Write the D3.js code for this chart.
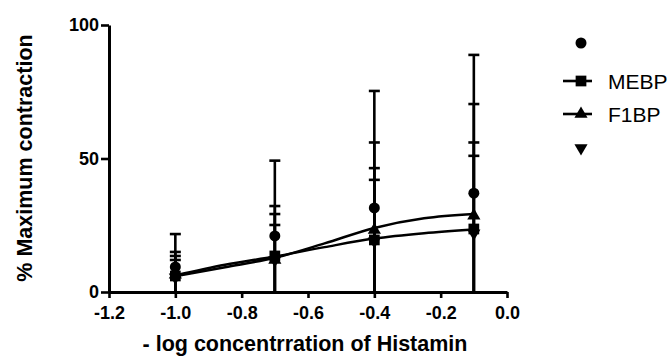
<!DOCTYPE html>
<html>
<head>
<meta charset="utf-8">
<script src="https://cdn.jsdelivr.net/npm/d3@7"></script>
<style>
  body { margin: 0; background: #fff; }
  text { font-family: "Liberation Sans", Arial, sans-serif; }
</style>
</head>
<body>
<svg id="chart" width="667" height="356"></svg>
<script>
// doses (-log concentration)
const doses = [-1.0, -0.7, -0.4, -0.1];

// means per group
const circleMean = [9.4, 21, 31.5, 37];
const mebpMean = [6, 13.5, 19.5, 23.6];
const f1bpMean = [6.5, 12, 23.2, 28.6];
const downMean = [5.5, 12, 19, 22];

// upper error (mean + SD) per group
const circleUpper = [21.7, 49.2, 75.3, 88.8];
const mebpUpper = [12, 25.1, 42, 51];
const f1bpUpper = [13.5, 29.2, 46.4, 56];
const downUpper = [15, 32.2, 56, 70.4];

// fitted curves
const fitX = [-1.0, -0.85, -0.7, -0.55, -0.4, -0.25, -0.1];
const mebpFit = [6.2, 10.2, 13.3, 16.8, 20.0, 22.0, 23.4];
const f1bpFit = [5.9, 9.3, 12.8, 18.2, 24.0, 27.6, 29.2];

const xTicks = [-1.2, -1.0, -0.8, -0.6, -0.4, -0.2, 0.0];
const yTicks = [0, 50, 100];

const legendNames = ["", "MEBP", "F1BP", ""];

const svg = d3.select("#chart");

const x = d3.scaleLinear().domain([-1.2, 0]).range([109, 507]);
const y = d3.scaleLinear().domain([0, 100]).range([292, 25]);

const symbols = {
    circle: d3.symbol().type(d3.symbolCircle).size(95),
    square: d3.symbol().type(d3.symbolSquare).size(115),
    triangle: d3.symbol().type(d3.symbolTriangle).size(75),
    down: d3.symbol().type(d3.symbolTriangle).size(75)
};

const groups = [
    { key: "circle", mean: circleMean, upper: circleUpper },
    { key: "square", mean: mebpMean, upper: mebpUpper },
    { key: "triangle", mean: f1bpMean, upper: f1bpUpper },
    { key: "down", mean: downMean, upper: downUpper }
];

// error bars (lower side runs to zero)
groups.forEach(g => {
    const eb = svg.append("g").attr("stroke", "#000").attr("stroke-width", 2.6);
    doses.forEach((d, i) => {
        const cx = x(d);
        eb.append("line")
            .attr("x1", cx).attr("x2", cx)
            .attr("y1", y(0)).attr("y2", y(g.upper[i]));
        eb.append("line")
            .attr("x1", cx - 5.5).attr("x2", cx + 5.5)
            .attr("y1", y(g.upper[i])).attr("y2", y(g.upper[i]));
    });
});

// fitted curves
const line = d3.line()
    .x((d, i) => x(fitX[i]))
    .y(d => y(d))
    .curve(d3.curveMonotoneX);

[mebpFit, f1bpFit].forEach(f => {
    svg.append("path")
        .attr("d", line(f))
        .attr("fill", "none")
        .attr("stroke", "#000")
        .attr("stroke-width", 2.5);
});

// markers
groups.forEach(g => {
    svg.append("g").selectAll("path")
        .data(g.mean)
        .enter().append("path")
        .attr("d", symbols[g.key])
        .attr("transform", (d, i) => `translate(${x(doses[i])},${y(d)})` + (g.key === "down" ? " rotate(180)" : ""))
        .attr("fill", "#000");
});

// axes
const xAxis = svg.append("g")
    .attr("transform", `translate(0,${y(0)})`)
    .call(d3.axisBottom(x).tickValues(xTicks).tickSize(6).tickSizeOuter(0));
const yAxis = svg.append("g")
    .attr("transform", `translate(${x(-1.2)},0)`)
    .call(d3.axisLeft(y).tickValues(yTicks).tickSize(8).tickSizeOuter(0));

[xAxis, yAxis].forEach(a => {
    a.select(".domain").attr("stroke", "#000").attr("stroke-width", 3);
    a.selectAll(".tick line").attr("stroke", "#000").attr("stroke-width", 2.6);
    a.selectAll(".tick text")
        .attr("fill", "#000")
        .style("font-size", "18px")
        .style("font-weight", "bold")
        .style("font-family", "Liberation Sans, Arial, sans-serif");
});
xAxis.selectAll(".tick text")
    .attr("y", 27).attr("dy", null)
    .text(d => d3.format(".1f")(d).replace("\u2212", "-"));
yAxis.selectAll(".tick text").attr("x", -10);

// axis titles
svg.append("text")
    .attr("x", 305).attr("y", 351)
    .attr("text-anchor", "middle")
    .style("font-size", "21.5px").style("font-weight", "bold")
    .text("- log concentrration of Histamin");

svg.append("text")
    .attr("transform", "translate(32,158) rotate(-90)")
    .attr("text-anchor", "middle")
    .style("font-size", "21.5px").style("font-weight", "bold")
    .text("% Maximum contraction");

// legend
const legendY = [43, 81, 114, 148];
const legendKeys = ["circle", "square", "triangle", "down"];
legendKeys.forEach((k, i) => {
    const ly = legendY[i];
    if (legendNames[i]) {
        svg.append("line")
            .attr("x1", 563).attr("x2", 592)
            .attr("y1", ly).attr("y2", ly)
            .attr("stroke", "#000").attr("stroke-width", 2.6);
        svg.append("text")
            .attr("x", 608).attr("y", ly + 7.5)
            .style("font-size", "21px")
            .text(legendNames[i]);
    }
    svg.append("path")
        .attr("d", symbols[k])
        .attr("transform", `translate(581,${ly})` + (k === "down" ? " rotate(180)" : ""))
        .attr("fill", "#000");
});
</script>
</body>
</html>
